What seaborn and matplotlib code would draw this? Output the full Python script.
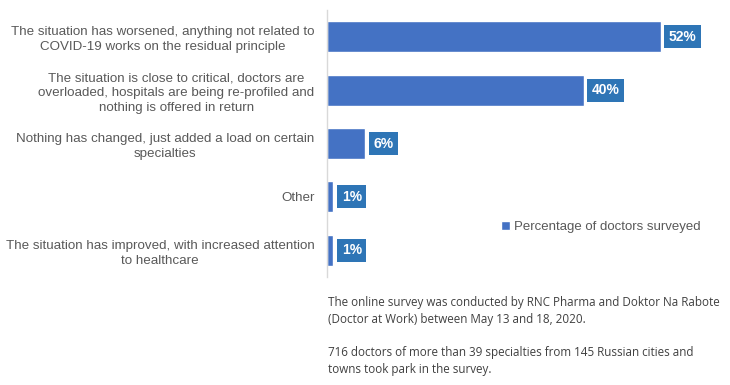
import matplotlib
matplotlib.use("Agg")
import matplotlib.pyplot as plt
import seaborn as sns

# data
categories = [
    "The situation has worsened, anything not related to\nCOVID-19 works on the residual principle",
    "The situation is close to critical, doctors are\noverloaded, hospitals are being re-profiled and\nnothing is offered in return",
    "Nothing has changed, just added a load on certain\nspecialties",
    "Other",
    "The situation has improved, with increased attention\nto healthcare",
]
values = [52, 40, 6, 1, 1]
series_name = "Percentage of doctors surveyed"

note_lines = [
    "The online survey was conducted by RNC Pharma and Doktor Na Rabote\n(Doctor at Work) between May 13 and 18, 2020.",
    "716 doctors of more than 39 specialties from 145 Russian cities and\ntowns took park in the survey.",
]

sns.set_style("white")
plt.rcParams["font.family"] = ["Liberation Sans", "DejaVu Sans"]

fig = plt.figure(figsize=(7.3, 3.85), dpi=100)
ax = fig.add_axes([327 / 730, 1 - 277 / 385, 372 / 730, 267 / 385])

sns.barplot(x=values, y=categories, orient="h", color="#4472C4",
            width=0.58, saturation=1, label=series_name, ax=ax)

ax.set_xlim(0, 58)
ax.set_xlabel("")
ax.set_ylabel("")
ax.set_xticks([])
for s in ["top", "right", "bottom"]:
    ax.spines[s].set_visible(False)
ax.spines["left"].set_color("#D9D9D9")
ax.spines["left"].set_linewidth(1)

ax.tick_params(axis="y", length=0, pad=9, labelsize=9.6, labelcolor="#595959")
for lbl in ax.get_yticklabels():
    lbl.set_multialignment("center")
    lbl.set_linespacing(1.3)

for i, v in enumerate(values):
    ax.text(v + 1.3, i, f"{v}%", va="center", ha="left", color="white",
            fontsize=10, fontweight="bold",
            bbox=dict(facecolor="#2E75B6", edgecolor="none", pad=3.2))

ax.legend(loc="center left", bbox_to_anchor=(489 / 730, 1 - 227 / 385),
          bbox_transform=fig.transFigure, frameon=False, fontsize=9.5,
          labelcolor="#595959", handlelength=0.7, handleheight=0.7,
          handletextpad=0.3)

fig.text(328 / 730, 1 - 296 / 385, note_lines[0], ha="left", va="top",
         fontsize=8.4, color="#404040", family=["Open Sans", "DejaVu Sans"],
         linespacing=1.45)
fig.text(328 / 730, 1 - 346 / 385, note_lines[1], ha="left", va="top",
         fontsize=8.4, color="#404040", family=["Open Sans", "DejaVu Sans"],
         linespacing=1.45)

fig.savefig("out.png", dpi=100)
